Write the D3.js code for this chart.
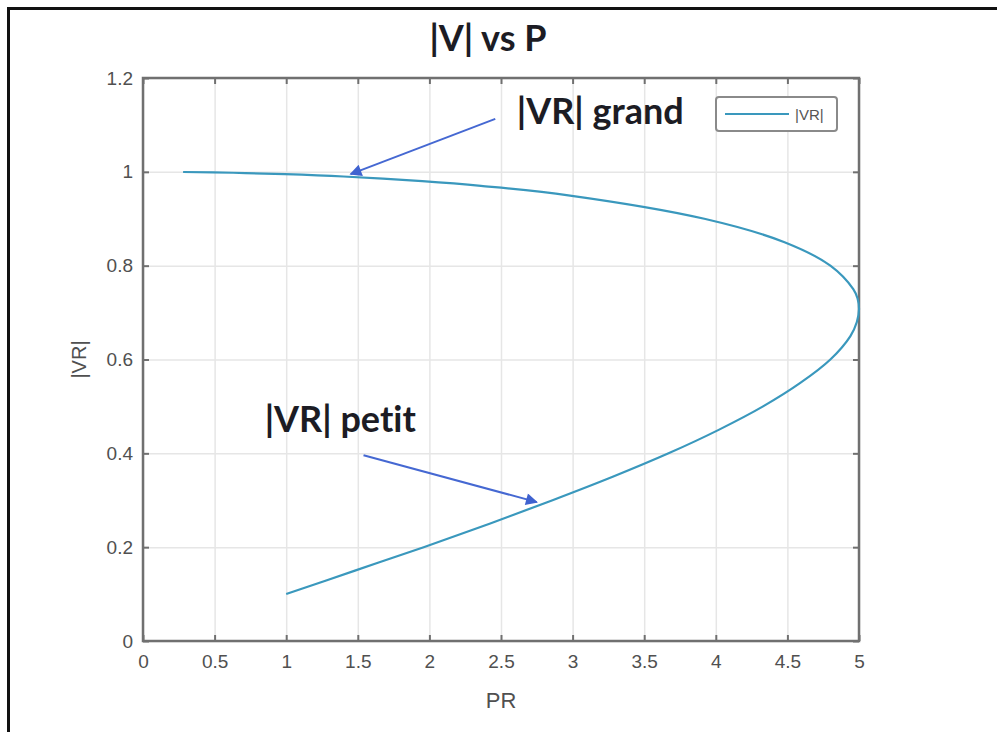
<!DOCTYPE html>
<html>
<head>
<meta charset="utf-8">
<script src="https://cdn.jsdelivr.net/npm/d3@7"></script>
<style>
    body { margin: 0; background: #fff; }
    .tick text { font-family: "Liberation Sans", Arial, sans-serif; fill: #505050; }
    .note { font-family: Lato, "Open Sans", sans-serif; font-weight: 700; fill: #1c1c24; font-variant-ligatures: none; }
</style>
</head>
<body>
<div id="chart"></div>
<script>
const width = 997;
const height = 732;
const margins = ({
    top: 78,
    right: 138,
    bottom: 91,
    left: 143
})
const innerWidth = width - margins.left - margins.right
const innerHeight = height - margins.top - margins.bottom

// curve, from lower branch start round the nose to upper end
const prValues = [1.0, 1.48, 1.96, 2.42, 2.86, 3.28, 3.67, 4.02, 4.33, 4.59, 4.8, 4.94, 4.985, 5.0, 4.99, 4.96, 4.8, 4.48, 3.92, 2.97, 2.36, 1.95, 1.40, 0.99, 0.63, 0.28]
const vrValues = [0.1, 0.15, 0.2, 0.25, 0.3, 0.35, 0.4, 0.45, 0.5, 0.55, 0.6, 0.65, 0.68, 0.707, 0.73, 0.75, 0.8, 0.85, 0.9, 0.95, 0.97, 0.98, 0.99, 0.995, 0.998, 0.9996]
const xTicks = [0, 0.5, 1, 1.5, 2, 2.5, 3, 3.5, 4, 4.5, 5]
const yTicks = [0, 0.2, 0.4, 0.6, 0.8, 1, 1.2]
const seriesName = "|VR|"

// annotations: label, text anchor [x, y], arrow start and tip in data units
const notes = [
    { label: "|VR| grand", at: [2.61, 1.103], from: [2.46, 1.113], to: [1.45, 0.995] },
    { label: "|VR| petit", at: [0.85, 0.445], from: [1.54, 0.396], to: [2.75, 0.296] }
]

const svg = d3.select("#chart")
    .append("svg")
    .attr("width", width)
    .attr("height", height)

svg.append("defs").append("marker")
    .attr("id", "head")
    .attr("viewBox", "0 0 10 10")
    .attr("refX", 9)
    .attr("refY", 5)
    .attr("markerWidth", 14)
    .attr("markerHeight", 12)
    .attr("markerUnits", "userSpaceOnUse")
    .attr("orient", "auto")
    .append("path")
    .attr("d", "M0,0 L10,5 L0,10 Z")
    .style("fill", "#3f62d0")

// outer frame of the screenshot (left and top edges only)
svg.append("path")
    .attr("d", `M8.5,${height} V8.5 H${width}`)
    .style("fill", "none")
    .style("stroke", "#111")
    .style("stroke-width", 3)

const g = svg.append("g").attr("transform", `translate(${margins.left},${margins.top})`)

const x = d3.scaleLinear().domain([0, 5]).range([0, innerWidth])
const y = d3.scaleLinear().domain([0, 1.2]).range([innerHeight, 0])

function dropText(a) {
    a.select(".domain").remove()
    a.selectAll("text").remove()
}

// grid
g.append("g")
    .attr("transform", `translate(0,${innerHeight})`)
    .call(d3.axisBottom(x).tickValues(xTicks).tickSize(-innerHeight))
    .call(dropText)
    .call(a => a.selectAll("line").style("stroke", "#e6e6e6").style("stroke-width", 1.5))
g.append("g")
    .call(d3.axisLeft(y).tickValues(yTicks).tickSize(-innerWidth))
    .call(dropText)
    .call(a => a.selectAll("line").style("stroke", "#e6e6e6").style("stroke-width", 1.5))

// axes with inward ticks
function styleAxis(a) {
    a.select(".domain").remove()
    a.selectAll("line").style("stroke", "#707070").style("stroke-width", 2)
    a.selectAll("text").style("font-size", "19px")
}
g.append("g")
    .attr("transform", `translate(0,${innerHeight})`)
    .call(d3.axisBottom(x).tickValues(xTicks).tickSizeInner(-6).tickSizeOuter(0).tickPadding(14).tickFormat(d3.format("")))
    .call(styleAxis)
g.append("g")
    .call(d3.axisLeft(y).tickValues(yTicks).tickSizeInner(-6).tickSizeOuter(0).tickPadding(10).tickFormat(d3.format("")))
    .call(styleAxis)
g.append("g")
    .call(d3.axisTop(x).tickValues(xTicks).tickSizeInner(-6).tickSizeOuter(0))
    .call(dropText)
    .call(styleAxis)
g.append("g")
    .attr("transform", `translate(${innerWidth},0)`)
    .call(d3.axisRight(y).tickValues(yTicks).tickSizeInner(-6).tickSizeOuter(0))
    .call(dropText)
    .call(styleAxis)

g.append("rect")
    .attr("width", innerWidth)
    .attr("height", innerHeight)
    .style("fill", "none")
    .style("stroke", "#707070")
    .style("stroke-width", 2.5)

// curve
const curveData = prValues.map((d, i) => ({ "x": d, "y": vrValues[i] }))
const line = d3.line()
    .x(d => x(d.x))
    .y(d => y(d.y))
    .curve(d3.curveCatmullRom)
g.append("path")
    .datum(curveData)
    .attr("d", line)
    .style("fill", "none")
    .style("stroke", "#3a98bd")
    .style("stroke-width", 2.2)

// annotations
notes.forEach(n => {
    g.append("line")
        .attr("x1", x(n.from[0]))
        .attr("y1", y(n.from[1]))
        .attr("x2", x(n.to[0]))
        .attr("y2", y(n.to[1]))
        .attr("marker-end", "url(#head)")
        .style("stroke", "#4568d2")
        .style("stroke-width", 2)
    g.append("text")
        .attr("class", "note")
        .attr("x", x(n.at[0]))
        .attr("y", y(n.at[1]))
        .style("font-size", "36px")
        .text(n.label)
})

// legend
const legend = g.append("g").attr("transform", `translate(${innerWidth - 143},19)`)
legend.append("rect")
    .attr("width", 121)
    .attr("height", 34)
    .attr("rx", 3)
    .style("fill", "#fff")
    .style("stroke", "#8a8a8a")
    .style("stroke-width", 2)
legend.append("line")
    .attr("x1", 9)
    .attr("x2", 73)
    .attr("y1", 17)
    .attr("y2", 17)
    .style("stroke", "#3a98bd")
    .style("stroke-width", 2)
legend.append("text")
    .attr("x", 79)
    .attr("y", 23)
    .style("font-family", "'Liberation Sans', Arial, sans-serif")
    .style("font-size", "15px")
    .style("fill", "#555")
    .text(seriesName)

// titles
svg.append("text")
    .attr("class", "note")
    .attr("x", margins.left + innerWidth / 2 - 13)
    .attr("y", 51)
    .attr("text-anchor", "middle")
    .style("font-size", "36px")
    .text("|V| vs P")
svg.append("text")
    .attr("x", margins.left + innerWidth / 2)
    .attr("y", 708)
    .attr("text-anchor", "middle")
    .style("font-family", "'Liberation Sans', Arial, sans-serif")
    .style("font-size", "22px")
    .style("fill", "#505050")
    .text("PR")
svg.append("text")
    .attr("transform", `translate(86,${margins.top + y(0.6)}) rotate(-90)`)
    .attr("text-anchor", "middle")
    .style("font-family", "'Liberation Sans', Arial, sans-serif")
    .style("font-size", "20px")
    .style("fill", "#505050")
    .text("|VR|")
</script>
</body>
</html>
